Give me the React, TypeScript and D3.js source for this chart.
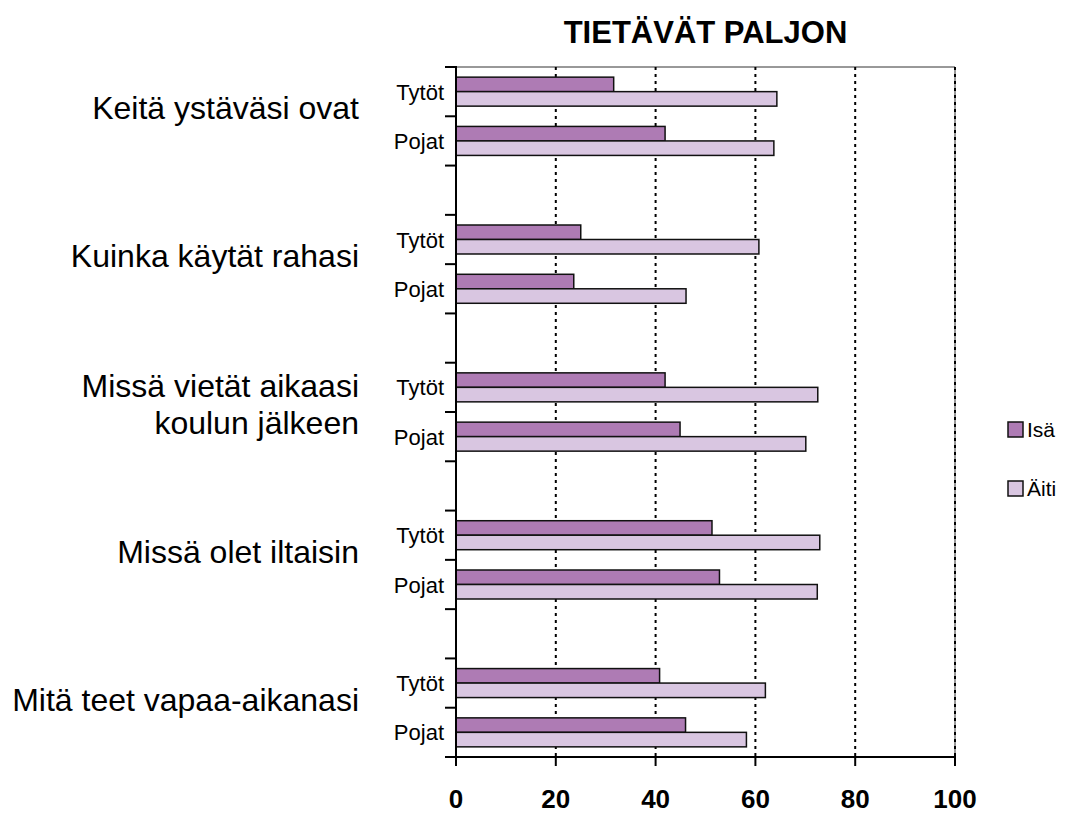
import React, { useEffect, useRef } from 'react';
import * as d3 from 'd3';

const categories = [
  'Keitä ystäväsi ovat',
  'Kuinka käytät rahasi',
  'Missä vietät aikaasi|koulun jälkeen',
  'Missä olet iltaisin',
  'Mitä teet vapaa-aikanasi',
];
const groups = ['Tytöt', 'Pojat'];
const seriesNames = ['Isä', 'Äiti'];

// values, per category
const isaTytot = [31.6, 25.0, 41.9, 51.3, 40.8];
const aitiTytot = [64.3, 60.7, 72.5, 72.9, 62.0];
const isaPojat = [41.9, 23.6, 44.9, 52.8, 46.0];
const aitiPojat = [63.7, 46.1, 70.1, 72.4, 58.2];

const xTicks = [0, 20, 40, 60, 80, 100];

const App = () => {
  const ref = useRef<SVGSVGElement>(null);

  useEffect(() => {
    const width = 1072;
    const height = 814;
    const left = 456;
    const right = 955;
    const top = 67;
    const bottom = 757;
    const font = '"Liberation Sans", Arial, Helvetica, sans-serif';
    const colors: any = { 'Isä': '#ae7bb4', 'Äiti': '#d9c6e1' };

    const svg = d3.select(ref.current);
    svg.selectAll('*').remove();
    svg.attr('width', width).attr('height', height);

    // rows: Tytöt, Pojat, then an empty gap row between categories
    const rows: string[] = [];
    categories.forEach((c, i) => {
      groups.forEach(g => rows.push(`${i}-${g}`));
      if (i < categories.length - 1) rows.push(`${i}-gap`);
    });

    const x = d3.scaleLinear().domain([0, 100]).range([left, right]);
    const y = d3.scaleBand().domain(rows).range([top, bottom]).padding(0);
    const inner = d3.scaleBand().domain(seriesNames).range([0, y.bandwidth()]).paddingOuter(0.7).paddingInner(0);

    const data: any[] = [];
    categories.forEach((c, i) => {
      data.push({ row: `${i}-Tytöt`, s: 'Isä', v: isaTytot[i] });
      data.push({ row: `${i}-Tytöt`, s: 'Äiti', v: aitiTytot[i] });
      data.push({ row: `${i}-Pojat`, s: 'Isä', v: isaPojat[i] });
      data.push({ row: `${i}-Pojat`, s: 'Äiti', v: aitiPojat[i] });
    });

    // frame
    svg.append('line')
      .attr('x1', left).attr('x2', right).attr('y1', top).attr('y2', top)
      .attr('stroke', '#333').attr('stroke-width', 1);
    svg.append('line')
      .attr('x1', right).attr('x2', right).attr('y1', top).attr('y2', bottom)
      .attr('stroke', '#333').attr('stroke-width', 1);

    // dotted gridlines
    svg.append('g')
      .selectAll('line')
      .data(xTicks.filter(t => t > 0))
      .enter()
      .append('line')
      .attr('x1', d => x(d)).attr('x2', d => x(d))
      .attr('y1', top).attr('y2', bottom)
      .attr('stroke', '#000')
      .attr('stroke-width', 2)
      .attr('stroke-dasharray', '3,4');

    // bars
    svg.append('g')
      .selectAll('rect')
      .data(data)
      .enter()
      .append('rect')
      .attr('x', x(0))
      .attr('y', (d: any) => (y(d.row) as number) + (inner(d.s) as number))
      .attr('width', (d: any) => x(d.v) - x(0))
      .attr('height', inner.bandwidth())
      .attr('fill', (d: any) => colors[d.s])
      .attr('stroke', '#111')
      .attr('stroke-width', 1.5);

    // y axis line + ticks at every row boundary
    const bounds = rows.map(r => y(r) as number).concat([bottom]);
    svg.append('g')
      .selectAll('line')
      .data(bounds)
      .enter()
      .append('line')
      .attr('x1', left - 11).attr('x2', left)
      .attr('y1', d => d).attr('y2', d => d)
      .attr('stroke', '#000').attr('stroke-width', 2);
    svg.append('line')
      .attr('x1', left).attr('x2', left).attr('y1', top - 1).attr('y2', bottom + 1)
      .attr('stroke', '#000').attr('stroke-width', 2);

    // x axis
    svg.append('line')
      .attr('x1', left - 1).attr('x2', right + 1).attr('y1', bottom).attr('y2', bottom)
      .attr('stroke', '#000').attr('stroke-width', 2);
    svg.append('g')
      .selectAll('line')
      .data(xTicks)
      .enter()
      .append('line')
      .attr('x1', d => x(d)).attr('x2', d => x(d))
      .attr('y1', bottom).attr('y2', bottom + 9)
      .attr('stroke', '#000').attr('stroke-width', 2);
    svg.append('g')
      .selectAll('text')
      .data(xTicks)
      .enter()
      .append('text')
      .attr('x', d => x(d))
      .attr('y', bottom + 51)
      .attr('text-anchor', 'middle')
      .attr('font-family', font)
      .attr('font-weight', 'bold')
      .attr('font-size', 26)
      .text(d => d);

    // group labels
    svg.append('g')
      .selectAll('text')
      .data(rows.filter(r => !r.endsWith('gap')))
      .enter()
      .append('text')
      .attr('x', left - 12)
      .attr('y', r => (y(r) as number) + y.bandwidth() / 2 + 8)
      .attr('text-anchor', 'end')
      .attr('font-family', font)
      .attr('font-size', 22)
      .text(r => r.split('-')[1]);

    // category labels
    categories.forEach((c, i) => {
      const lines = c.split('|');
      const mid = (y(`${i}-Tytöt`) as number) + y.bandwidth() - 8;
      const lh = 37;
      const t = svg.append('text')
        .attr('text-anchor', 'end')
        .attr('font-family', font)
        .attr('font-size', 32);
      lines.forEach((l, k) => {
        t.append('tspan')
          .attr('x', 359)
          .attr('y', mid + 11 + (k - (lines.length - 1) / 2) * lh)
          .text(l);
      });
    });

    // title
    svg.append('text')
      .attr('x', (left + right) / 2)
      .attr('y', 43)
      .attr('text-anchor', 'middle')
      .attr('font-family', font)
      .attr('font-weight', 'bold')
      .attr('font-size', 31)
      .text('TIETÄVÄT PALJON');

    // legend
    const legend = svg.append('g')
      .selectAll('g')
      .data(seriesNames)
      .enter()
      .append('g')
      .attr('transform', (d, i) => `translate(1008,${422 + i * 59})`);
    legend.append('rect')
      .attr('width', 15).attr('height', 15)
      .attr('fill', d => colors[d])
      .attr('stroke', '#111').attr('stroke-width', 1.5);
    legend.append('text')
      .attr('x', 19).attr('y', 15)
      .attr('font-family', font)
      .attr('font-size', 21)
      .text(d => d);
  }, []);

  return <svg ref={ref} style={{ position: 'absolute', left: 0, top: 0 }} />;
};

export default App;
